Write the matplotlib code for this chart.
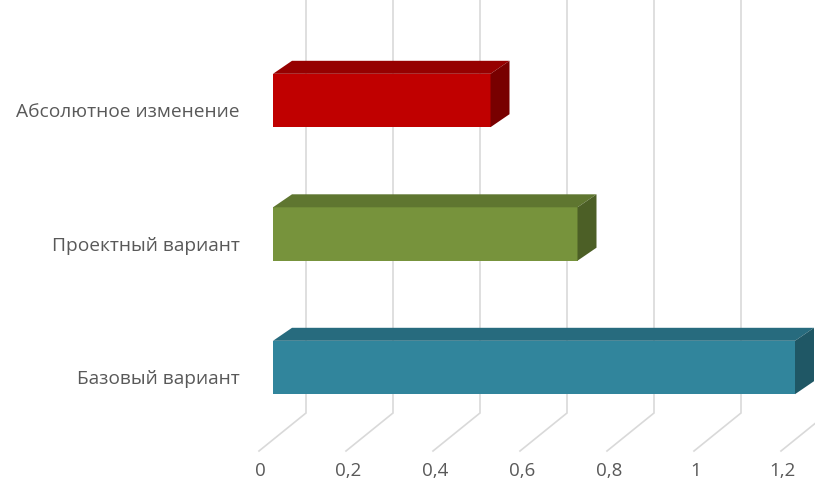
import matplotlib
matplotlib.use("Agg")
import matplotlib.pyplot as plt
from matplotlib.patches import Polygon

categories = ["Базовый вариант", "Проектный вариант", "Абсолютное изменение"]
values = [1.2, 0.7, 0.5]
ticks = [0, 0.2, 0.4, 0.6, 0.8, 1.0, 1.2]
tick_labels = ["0", "0,2", "0,4", "0,6", "0,8", "1", "1,2"]

front_col = ["#31859C", "#77933C", "#C00000"]
top_col = ["#276B7E", "#5F7630", "#960000"]
side_col = ["#1F5765", "#4C5F26", "#780000"]

W, H = 815, 485
PX_X = 435.0     # pixels per unit value
PX_Y = 133.5     # pixels per category step
X0, Y0 = 273.0, 368.5

fig = plt.figure(figsize=(W / 100, H / 100), dpi=100)
ax = fig.add_axes([0, 0, 1, 1])
ax.set_xlim(-X0 / PX_X, (W - X0) / PX_X)
ax.set_ylim((Y0 - H) / PX_Y, Y0 / PX_Y)
ax.axis("off")

def px(dx, dy):
    # pixel offset -> data offset
    return dx / PX_X, -dy / PX_Y

# wall / floor geometry (depth offsets in pixels)
bx, _ = px(33, 0)
fx, _ = px(-14, 0)
_, floor_back = px(0, 414 - Y0)
_, floor_front = px(0, 452 - Y0)
_, lab_y = px(0, 471 - Y0)
top = Y0 / PX_Y

grid = "#D9D9D9"
for t, lab in zip(ticks, tick_labels):
    ax.plot([t + bx, t + bx, t + fx], [top, floor_back, floor_front],
            color=grid, lw=1.2, zorder=1, solid_joinstyle="miter")
    ax.text(t + fx + 0.004, lab_y, lab, ha="center", va="center",
            fontsize=13.5, color="#595959", family="Open Sans")

bh = 0.4
dx, dy = px(19, -13)
_, lab_shift = px(0, 11)
for i, (cat, v) in enumerate(zip(categories, values)):
    y = i
    lo, hi = y - bh / 2, y + bh / 2
    ax.add_patch(Polygon([(0, lo), (v, lo), (v, hi), (0, hi)],
                         closed=True, fc=front_col[i], ec="none", zorder=3))
    ax.add_patch(Polygon([(0, hi), (v, hi), (v + dx, hi + dy), (dx, hi + dy)],
                         closed=True, fc=top_col[i], ec="none", zorder=3))
    ax.add_patch(Polygon([(v, lo), (v + dx, lo + dy), (v + dx, hi + dy), (v, hi)],
                         closed=True, fc=side_col[i], ec="none", zorder=3))
    ax.text(px(-33, 0)[0], y + lab_shift, cat, ha="right", va="center",
            fontsize=13.8, color="#595959", family="Open Sans")

fig.savefig("out.png", dpi=100)
